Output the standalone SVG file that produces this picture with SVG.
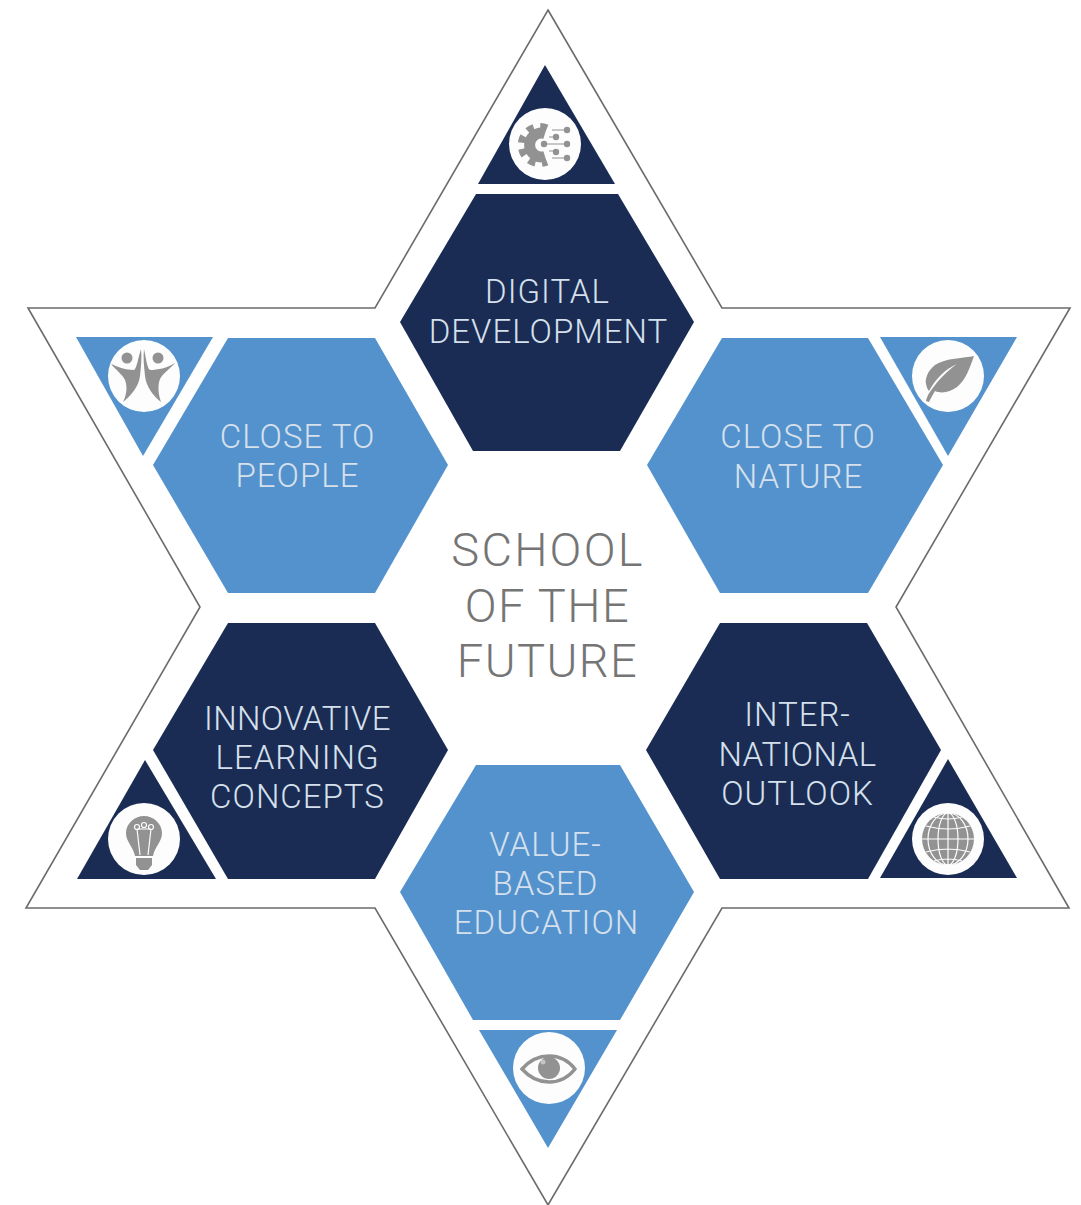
<svg xmlns="http://www.w3.org/2000/svg" width="1081" height="1205" viewBox="0 0 1081 1205">
<style>
.navy{fill:#1a2c54}
.blue{fill:#5392cd}
.disc{fill:#fdfdfd}
.ico{fill:#929292}
.lbl{font-family:"Roboto","Liberation Sans",sans-serif;font-weight:300;font-size:33px;letter-spacing:1px;fill:#d6e0ec;text-anchor:middle}
.tight{letter-spacing:.4px}
.ctr{font-family:"Roboto","Liberation Sans",sans-serif;font-weight:300;font-size:47px;letter-spacing:2.2px;fill:#757575;text-anchor:middle}
.ctr.tight{letter-spacing:1.4px}
</style>
<rect width="1081" height="1205" fill="#fff"/>
<polygon id="star-outline" points="548,10 722,308 1070,308 896,607 1069,908 722,908 548,1205 375,908 26,908 200,607 28,308 375,308" fill="none" stroke="#6b6b6b" stroke-width="1.6"/>
<g id="digital-development">
<polygon class="navy" points="476,194 618,194 694,322 620,451 473,451 400,322"/>
<polygon class="navy" points="545,65 615,184 478,184"/>
<circle class="disc" cx="545" cy="144" r="36"/>
<path d="M547 128A18.500 18.500 0 1 0 547 162" fill="none" stroke="#929292" stroke-width="7" stroke-dasharray="7 6.500"/>
<path d="M545 133.500A12 12 0 1 0 545 156.500" fill="none" stroke="#929292" stroke-width="11"/>
<path d="M544 144H567M549 137H556M552 130H567M549 151H556M552 158H567" fill="none" stroke="#929292" stroke-width="1.2"/>
<g class="ico"><circle cx="567" cy="130" r="3.2"/><circle cx="556" cy="137" r="3.2"/><circle cx="567" cy="144" r="3.2"/><circle cx="544" cy="144" r="3.2"/><circle cx="556" cy="152" r="3.2"/><circle cx="567" cy="158" r="3.2"/></g>
<text class="lbl" x="547.500" y="303">DIGITAL</text>
<text class="lbl" x="548.500" y="343">DEVELOPMENT</text>
</g>
<g id="close-to-people">
<polygon class="blue" points="228,338 375,338 448,465 375,593 228,593 153,465"/>
<polygon class="blue" points="76,337 213,337 143,456"/>
<circle class="disc" cx="144" cy="376" r="36"/>
<g class="ico">
<circle cx="127" cy="358" r="5.500"/><circle cx="158" cy="358" r="5.500"/>
<path d="M141 349C138 358 137 368 134 370C126 370 118 367 111 364C116 370 122 374 125 380C128 388 126 396 123 402C131 396 139 386 140 376C141 366 142 358 141 349Z"/>
<path d="M144 349C146 358 147 368 150 370C158 370 167 368 175 363C169 370 163 373 160 379C157 387 159 396 161 402C153 396 146 386 145 376C144 366 143 358 144 349Z"/>
</g>
<text class="lbl" x="297.500" y="448">CLOSE TO</text>
<text class="lbl" x="297.500" y="487">PEOPLE</text>
</g>
<g id="close-to-nature">
<polygon class="blue" points="722,338 868,338 943,465 868,593 720,593 647,465"/>
<polygon class="blue" points="880,337 1017,337 948,456"/>
<circle class="disc" cx="948" cy="376" r="36"/>
<path class="ico" d="M974 356C965 358 945 358 935 365C927 371 925 380 926 384C927 388 928 390 929 391C935 380 945 369 957 364C947 371 936 382 928 395C927 398 926 399 926 401L929 402C931 398 933 394 935 391C942 394 950 392 957 387C966 380 970 367 974 356Z"/>
<text class="lbl" x="798" y="448">CLOSE TO</text>
<text class="lbl" x="798.500" y="488">NATURE</text>
</g>
<g id="innovative-learning-concepts">
<polygon class="navy" points="228,623 375,623 448,750 375,879 228,879 153,750"/>
<polygon class="navy" points="145,760 216,879 77,879"/>
<circle class="disc" cx="144" cy="839" r="36"/>
<path class="ico" d="M144 816C134 816 126 824 126 833C126 842 133 846 135 856H153C155 846 162 842 162 833C162 824 154 816 144 816Z"/>
<path class="ico" d="M136 858H152V865L148 870H140L136 865Z"/>
<path d="M137 829L140 855M151 829L148 855M137 829H151" fill="none" stroke="#fdfdfd" stroke-width="1.200"/>
<g fill="none" stroke="#fdfdfd" stroke-width="1.200"><circle cx="137" cy="827" r="2.500"/><circle cx="144" cy="825" r="2.500"/><circle cx="151" cy="827" r="2.500"/></g>
<text class="lbl tight" x="297.500" y="730">INNOVATIVE</text>
<text class="lbl" x="297.500" y="769">LEARNING</text>
<text class="lbl" x="297.500" y="808">CONCEPTS</text>
</g>
<g id="international-outlook">
<polygon class="navy" points="720,623 867,623 941,750 868,879 720,879 646,750"/>
<polygon class="navy" points="948,759 1017,878 880,878"/>
<circle class="disc" cx="948" cy="839" r="36"/>
<circle class="ico" cx="948" cy="839" r="26"/>
<g fill="none" stroke="#fdfdfd" stroke-width="1.200">
<ellipse cx="948" cy="839" rx="10" ry="26"/><ellipse cx="948" cy="839" rx="20" ry="26"/>
<path d="M948 813V865M922 839H974M926 826Q948 832 970 826M926 852Q948 846 970 852M934 817Q948 821 962 817M934 861Q948 857 962 861"/>
</g>
<text class="lbl" x="797.500" y="726">INTER-</text>
<text class="lbl tight" x="797.500" y="766">NATIONAL</text>
<text class="lbl" x="797.500" y="805">OUTLOOK</text>
</g>
<g id="value-based-education">
<polygon class="blue" points="476,765 620,765 694,892 620,1020 473,1020 400,892"/>
<polygon class="blue" points="479,1030 617,1030 548,1148"/>
<circle class="disc" cx="549" cy="1068" r="36"/>
<path d="M522 1069C530 1060 539 1056 549 1056C559 1056 568 1060 575 1069C568 1078 559 1082 549 1082C539 1082 530 1078 522 1069Z" fill="none" stroke="#929292" stroke-width="3.400"/>
<circle class="ico" cx="549" cy="1068" r="11"/>
<circle cx="543" cy="1062" r="2.500" fill="#c4c4c4"/>
<text class="lbl" x="545.500" y="856">VALUE-</text>
<text class="lbl" x="545.500" y="895">BASED</text>
<text class="lbl" x="546.500" y="934">EDUCATION</text>
</g>
<g id="center">
<text class="ctr" x="548" y="566">SCHOOL</text>
<text class="ctr tight" x="547.500" y="622">OF THE</text>
<text class="ctr tight" x="547.500" y="677">FUTURE</text>
</g>
</svg>
